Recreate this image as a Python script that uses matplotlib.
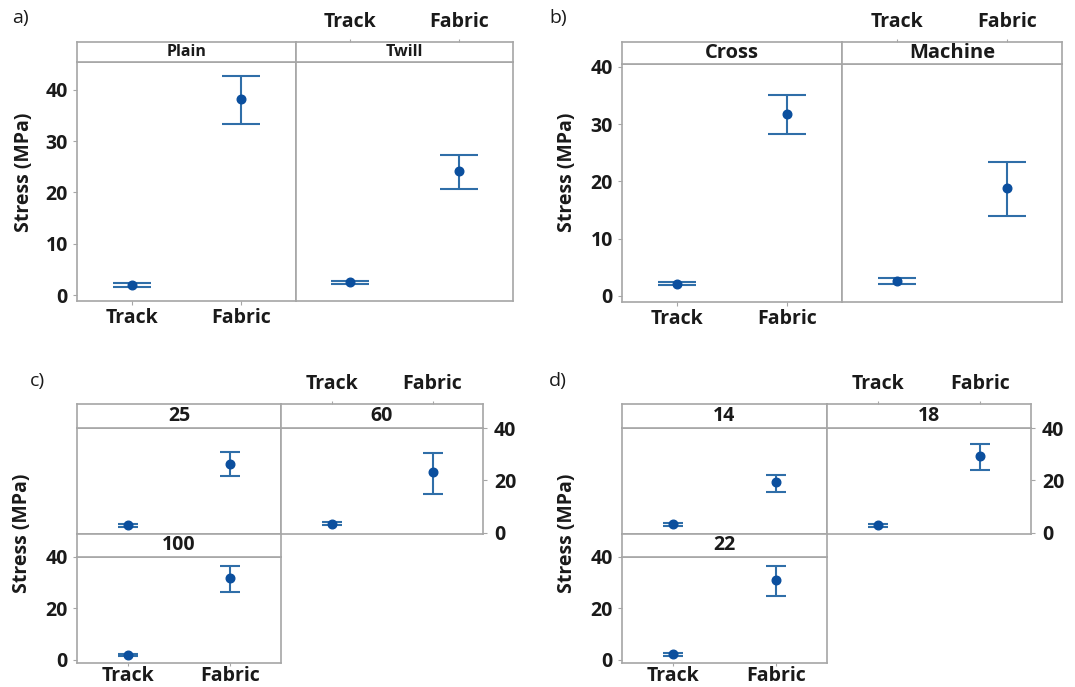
import matplotlib
matplotlib.use("Agg")
import matplotlib.pyplot as plt

plt.rcParams["font.family"] = ["Open Sans", "DejaVu Sans"]

W, H = 1075, 687

materials = ["Track", "Fabric"]

# a) weave type
a_groups = ["Plain", "Twill"]
a_mean = [[2.0, 38.3], [2.5, 24.1]]
a_low = [[1.6, 33.4], [2.2, 20.6]]
a_high = [[2.3, 42.7], [2.8, 27.3]]

# b) direction
b_groups = ["Cross", "Machine"]
b_mean = [[2.15, 31.8], [2.6, 18.8]]
b_low = [[1.9, 28.3], [2.1, 14.0]]
b_high = [[2.4, 35.1], [3.1, 23.4]]

# c) temperature
c_groups = ["25", "60", "100"]
c_mean = [[2.8, 26.3], [3.4, 23.0], [1.9, 31.7]]
c_low = [[2.3, 21.6], [2.8, 14.9], [1.5, 26.3]]
c_high = [[3.3, 30.7], [4.0, 30.6], [2.3, 36.5]]

# d) gauge
d_groups = ["14", "18", "22"]
d_mean = [[3.3, 19.2], [2.8, 29.2], [2.2, 31.2]]
d_low = [[2.4, 15.7], [2.3, 23.9], [1.7, 24.9]]
d_high = [[3.8, 22.1], [3.2, 33.9], [2.6, 36.5]]

FRAME = "#a6a6a6"
BAR = "#2f6ea8"
DOT = "#0b4f9e"
TXT = "#1a1a1a"
WT = "bold"
TICKFS = 14

fig = plt.figure(figsize=(W / 100, H / 100), dpi=100)


def box(x0, y0, x1, y1):
    return [x0 / W, 1 - y1 / H, (x1 - x0) / W, (y1 - y0) / H]


def style_frame(ax):
    for s in ax.spines.values():
        s.set_color(FRAME)
        s.set_linewidth(1.2)
    ax.tick_params(colors=FRAME, labelcolor=TXT, length=3, width=0.8)


def strip(x0, y0, x1, y1, label, size, weight):
    ax = fig.add_axes(box(x0, y0, x1, y1))
    ax.set_xlim(-0.5, 1.5)
    ax.set_ylim(0, 1)
    ax.set_yticks([])
    ax.set_xticks([])
    style_frame(ax)
    ax.text(0.5, 0.5, label, transform=ax.transAxes, ha="center", va="center",
            fontsize=size, fontweight=weight, color=TXT)
    return ax


def top_ticks(st):
    st.set_xticks([0, 1])
    st.xaxis.tick_top()
    st.set_xticklabels(materials, fontsize=TICKFS, fontweight=WT)
    st.tick_params(axis="x", length=2, pad=5)


def panel(x0, y0, x1, y1, ylim, mean, low, high, cap):
    ax = fig.add_axes(box(x0, y0, x1, y1))
    xs = range(len(materials))
    lo = [m - l for m, l in zip(mean, low)]
    hi = [h - m for m, h in zip(mean, high)]
    ax.errorbar(xs, mean, yerr=[lo, hi], fmt="none", ecolor=BAR, elinewidth=1.5,
                capsize=cap, capthick=1.5, zorder=2)
    ax.plot(xs, mean, "o", color=DOT, markersize=6.2, zorder=3)
    ax.set_xlim(-0.5, 1.5)
    ax.set_ylim(*ylim)
    ax.set_xticks(list(xs))
    ax.set_xticklabels([])
    ax.set_yticks([])
    style_frame(ax)
    return ax


def left_ticks(ax, ticks):
    ax.set_yticks(ticks)
    ax.set_yticklabels([str(v) for v in ticks], fontsize=TICKFS, fontweight=WT)


# ---------------- a) ----------------
ylim_a = (-1.17, 45.46)
for i, g in enumerate(a_groups):
    x0 = [77, 296][i]
    x1 = [296, 513][i]
    ax = panel(x0, 62, x1, 301, ylim_a, a_mean[i], a_low[i], a_high[i], 13.5)
    st = strip(x0, 42, x1, 62, g, 11.5, WT)
    if i == 0:
        left_ticks(ax, [0, 10, 20, 30, 40])
        ax.set_xticklabels(materials, fontsize=TICKFS, fontweight=WT)
        ax.tick_params(axis="x", pad=2)
    else:
        top_ticks(st)
        ax.tick_params(axis="x", length=0)
fig.text(24 / W, 1 - 172 / H, "Stress (MPa)", rotation=90, ha="center", va="center",
         fontsize=TICKFS, fontweight=WT, color=TXT)
fig.text(20 / W, 1 - 18 / H, "a)", ha="center", va="center", fontsize=14, color=TXT)

# ---------------- b) ----------------
ylim_b = (-1.05, 40.52)
for i, g in enumerate(b_groups):
    x0 = [622, 842][i]
    x1 = [842, 1062][i]
    ax = panel(x0, 64, x1, 302, ylim_b, b_mean[i], b_low[i], b_high[i], 13.5)
    st = strip(x0, 42, x1, 64, g, 14.5, WT)
    if i == 0:
        left_ticks(ax, [0, 10, 20, 30, 40])
        ax.set_xticklabels(materials, fontsize=TICKFS, fontweight=WT)
        ax.tick_params(axis="x", pad=2)
    else:
        top_ticks(st)
        ax.tick_params(axis="x", length=0)
fig.text(567 / W, 1 - 172 / H, "Stress (MPa)", rotation=90, ha="center", va="center",
         fontsize=TICKFS, fontweight=WT, color=TXT)
fig.text(558 / W, 1 - 18 / H, "b)", ha="center", va="center", fontsize=14, color=TXT)


# ---------------- c) and d) ----------------
def grid3(xl, xm, xr, groups, mean, low, high, letter, letter_x):
    top_lim = (-0.5, 40)
    bot_lim = (-1.2, 40)
    cells = [(xl, xm, 428, 534, top_lim), (xm, xr, 428, 534, top_lim),
             (xl, xm, 557, 663, bot_lim)]
    for i, (x0, x1, y0, y1, yl) in enumerate(cells):
        ax = panel(x0, y0, x1, y1, yl, mean[i], low[i], high[i], 7.5)
        st = strip(x0, y0 - 24 if i < 2 else 534, x1, y0, groups[i], 14, WT)
        if i == 0:
            ax.tick_params(axis="x", length=0)
        if i == 1:
            ax.yaxis.tick_right()
            left_ticks(ax, [0, 20, 40])
            ax.tick_params(axis="y", pad=5)
            ax.tick_params(axis="x", length=0)
            top_ticks(st)
        if i == 2:
            left_ticks(ax, [0, 20, 40])
            ax.set_xticklabels(materials, fontsize=TICKFS, fontweight=WT)
            ax.tick_params(axis="x", pad=0, length=2)
    fig.text((xl - 55) / W, 1 - 533 / H, "Stress (MPa)", rotation=90, ha="center",
             va="center", fontsize=TICKFS, fontweight=WT, color=TXT)
    fig.text(letter_x / W, 1 - 381 / H, letter, ha="center", va="center", fontsize=14,
             color=TXT)


grid3(77, 281, 483, c_groups, c_mean, c_low, c_high, "c)", 37)
grid3(622, 827, 1031, d_groups, d_mean, d_low, d_high, "d)", 558)

fig.savefig("out.png", dpi=100, facecolor="white")
